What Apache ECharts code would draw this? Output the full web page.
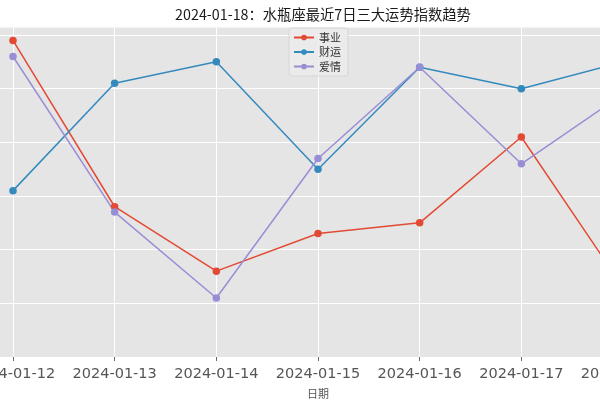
<!DOCTYPE html>
<html>
<head>
<meta charset="utf-8">
<script src="https://cdn.jsdelivr.net/npm/echarts@6/dist/echarts.min.js"></script>
<style>html,body{margin:0;padding:0;background:#fff}#c{width:600px;height:400px}</style>
</head>
<body>
<div id="c"></div>
<script>
const categories = ['2024-01-12','2024-01-13','2024-01-14','2024-01-15','2024-01-16','2024-01-17','2024-01-18'];
const career = [89, 58, 46, 53, 55, 71, 43];
const wealth = [61, 81, 85, 65, 84, 80, 85];
const love = [86, 57, 41, 67, 84, 66, 79];
const seriesNames = ['事业', '财运', '爱情'];
const colors = ['#E24A33', '#348ABD', '#988ED5'];

const cjk = '"Noto Sans CJK SC", "DejaVu Sans", sans-serif';
const chart = echarts.init(document.getElementById('c'), null, {renderer: 'canvas'});
function mk(name, arr, color) {
  return {
    name: name, type: 'line',
    data: arr.map((v, i) => [i, v]),
    symbol: 'circle', symbolSize: 7.5,
    itemStyle: {color: color},
    lineStyle: {color: color, width: 1.5},
    clip: true, animation: false
  };
}
chart.setOption({
  animation: false,
  textStyle: {fontFamily: cjk},
  title: {
    text: '2024-01-18：水瓶座最近7日三大运势指数趋势',
    left: 318, top: 2, textAlign: 'center',
    textStyle: {fontSize: 14.3, fontWeight: 'normal', color: '#1a1a1a', fontFamily: cjk}
  },
  legend: {
    orient: 'vertical', left: 289, top: 28,
    itemWidth: 20, itemHeight: 7, itemGap: 3.5,
    padding: [4, 7, 4, 4],
    backgroundColor: 'rgba(236,236,236,0.85)', borderColor: '#d6d6d6', borderWidth: 1, borderRadius: 3,
    textStyle: {fontSize: 11, color: '#333', fontFamily: cjk},
    data: seriesNames
  },
  grid: {
    left: -17.5, width: 671, top: 27.5, bottom: 43,
    containLabel: false, outerBoundsMode: 'none',
    show: true, backgroundColor: '#E5E5E5', borderWidth: 0
  },
  xAxis: {
    type: 'value', min: -0.3, max: 6.3, minInterval: 1, maxInterval: 1,
    name: '日期', nameLocation: 'middle', nameGap: 31,
    nameTextStyle: {fontSize: 11, color: '#555', fontFamily: cjk},
    axisLine: {show: false},
    axisTick: {show: true, length: 4, lineStyle: {color: '#666'}},
    axisLabel: {
      margin: 10, fontSize: 14.5, color: '#555', fontFamily: '"DejaVu Sans", sans-serif',
      showMinLabel: false, showMaxLabel: false,
      formatter: v => (Number.isInteger(v) && categories[v]) ? categories[v] : ''
    },
    splitLine: {show: true, showMinLine: false, showMaxLine: false, lineStyle: {color: '#ffffff', width: 1}}
  },
  yAxis: {
    type: 'value', min: 30, max: 91.4, interval: 10,
    axisLine: {show: false}, axisTick: {show: false}, axisLabel: {show: false},
    splitLine: {show: true, showMinLine: false, showMaxLine: false, lineStyle: {color: '#ffffff', width: 1}}
  },
  series: [
    mk(seriesNames[0], career, colors[0]),
    mk(seriesNames[1], wealth, colors[1]),
    mk(seriesNames[2], love, colors[2])
  ]
});
</script>
</body>
</html>
